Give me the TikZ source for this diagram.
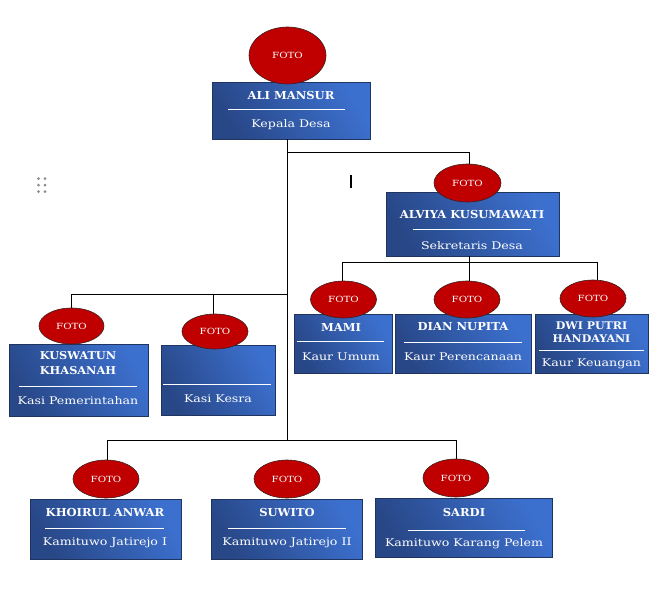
\documentclass[tikz,border=0pt]{standalone}
\usepackage{fontspec}
\setmainfont{DejaVu Serif}[FakeStretch=1.2]
\newfontfamily\namefont{DejaVu Serif}[FakeStretch=1.05]
\usetikzlibrary{shapes.geometric}
\definecolor{boxA}{HTML}{284787}
\definecolor{boxB}{HTML}{3C70CE}
\definecolor{boxline}{HTML}{1F3560}
\definecolor{fotored}{HTML}{C00000}
\definecolor{fotoline}{HTML}{3A2020}
\definecolor{gripgrey}{HTML}{8A8A8A}
\tikzset{
  box/.style={rectangle, draw=boxline, line width=0.8pt, left color=boxA, right color=boxB, shading angle=120, inner sep=0pt},
  foto/.style={ellipse, draw=fotoline, fill=fotored, line width=0.6pt, inner sep=0pt, text=white, font=\fontsize{8.5}{10}\selectfont},
  nm/.style={text=white, font=\namefont\bfseries\fontsize{11}{12}\selectfont, align=center, inner sep=0pt},
  tt/.style={text=white, font=\fontsize{10.5}{12}\selectfont, inner sep=0pt},
  sep/.style={draw=white, line width=0.8pt},
  link/.style={draw=black, line width=0.8pt},
}
\begin{document}
\begin{tikzpicture}[x=1pt, y=-1pt]
\useasboundingbox (0,0) rectangle (659,611);

% coordinates for connectors
\coordinate (a0) at (287,139);
\coordinate (a1) at (287,152);
\coordinate (a2) at (469,152);
\coordinate (s0) at (469,256);
\coordinate (s1) at (469,262);
\coordinate (sL) at (342,262);
\coordinate (sR) at (597,262);
\coordinate (k0) at (287,294);
\coordinate (kL) at (71,294);
\coordinate (kM) at (213,294);
\coordinate (d0) at (287,440);
\coordinate (dL) at (107,440);
\coordinate (dR) at (456,440);

% boxes
\node[box, minimum width=158pt, minimum height=57pt] (b1) at (291,110.5) {};
\node[box, minimum width=173pt, minimum height=64pt] (b2) at (472.5,224) {};
\node[box, minimum width=98pt, minimum height=59pt] (b3) at (343,343.5) {};
\node[box, minimum width=136pt, minimum height=59pt] (b4) at (463,343.5) {};
\node[box, minimum width=113pt, minimum height=59pt] (b5) at (591.5,343.5) {};
\node[box, minimum width=139pt, minimum height=72pt] (b6) at (78.5,380) {};
\node[box, minimum width=114pt, minimum height=70pt] (b7) at (218,380) {};
\node[box, minimum width=151pt, minimum height=60pt] (b8) at (105.5,529) {};
\node[box, minimum width=151pt, minimum height=60pt] (b9) at (286.5,529) {};
\node[box, minimum width=177pt, minimum height=59pt] (b10) at (463.5,527.5) {};

% connectors
\draw[link] (a0) -- (d0);
\draw[link] (a1) -- (a2) -- (469,164);
\draw[link] (s0) -- (s1);
\draw[link] (sL) -- (sR);
\draw[link] (sL) -- (342,281);
\draw[link] (s1) -- (469,281);
\draw[link] (sR) -- (597,280);
\draw[link] (kL) -- (k0);
\draw[link] (kL) -- (71,308);
\draw[link] (kM) -- (213,314);
\draw[link] (dL) -- (dR);
\draw[link] (dL) -- (107,460);
\draw[link] (dR) -- (456,459);

% texts
\node[nm] (n1) at (291,95.5) {ALI MANSUR};
\draw[sep] (228,109) -- (345,109);
\node[tt] (t1) at (291,125) {Kepala Desa};

\node[nm] (n2) at (472,214.5) {ALVIYA KUSUMAWATI};
\draw[sep] (413,229) -- (531,229);
\node[tt] (t2) at (472,245.5) {Sekretaris Desa};

\node[nm] (n3) at (341,327.5) {MAMI};
\draw[sep] (297,341) -- (384,341);
\node[tt] (t3) at (341,357) {Kaur Umum};

\node[nm] (n4) at (463,326.5) {DIAN NUPITA};
\draw[sep] (404,342) -- (522,342);
\node[tt] (t4) at (463,357) {Kaur Perencanaan};

\node[nm, font=\namefont\bfseries\fontsize{10.5}{13.5}\selectfont] (n5) at (591.5,332) {DWI PUTRI\\HANDAYANI};
\draw[sep] (539,350) -- (644,350);
\node[tt] (t5) at (591.5,364) {Kaur Keuangan};

\node[nm, font=\namefont\bfseries\fontsize{10.8}{15}\selectfont] (n6) at (78,363.5) {KUSWATUN\\KHASANAH};
\draw[sep] (19,386) -- (137,386);
\node[tt] (t6) at (78,401) {Kasi Pemerintahan};

\draw[sep] (163,384) -- (271,384);
\node[tt] (t7) at (218,399) {Kasi Kesra};

\node[nm] (n8) at (105,512.5) {KHOIRUL ANWAR};
\draw[sep] (45,528) -- (164,528);
\node[tt] (t8) at (105,543) {Kamituwo Jatirejo I};

\node[nm] (n9) at (287,512.5) {SUWITO};
\draw[sep] (228,528) -- (346,528);
\node[tt] (t9) at (287,543) {Kamituwo Jatirejo II};

\node[nm] (n10) at (464,512.5) {SARDI};
\draw[sep] (408,530) -- (525,530);
\node[tt] (t10) at (464,544) {Kamituwo Karang Pelem};

% photo ellipses
\node[foto, minimum width=77pt, minimum height=57pt] (f1) at (287.5,55.5) {FOTO};
\node[foto, minimum width=67pt, minimum height=38pt] (f2) at (467.5,183) {FOTO};
\node[foto, minimum width=66pt, minimum height=37pt] (f3) at (343.5,299.5) {FOTO};
\node[foto, minimum width=66pt, minimum height=37pt] (f4) at (467,299.5) {FOTO};
\node[foto, minimum width=66pt, minimum height=37pt] (f5) at (593,298.5) {FOTO};
\node[foto, minimum width=65pt, minimum height=36pt] (f6) at (71.5,326) {FOTO};
\node[foto, minimum width=66pt, minimum height=35pt] (f7) at (215,331.5) {FOTO};
\node[foto, minimum width=66pt, minimum height=38pt] (f8) at (106,479) {FOTO};
\node[foto, minimum width=66pt, minimum height=38pt] (f9) at (287,479) {FOTO};
\node[foto, minimum width=66pt, minimum height=38pt] (f10) at (456,478) {FOTO};

% grip dots and text cursor
\foreach \gx in {38.5,45} \foreach \gy in {178.5,185,191.5}
  \fill[gripgrey] (\gx,\gy) circle (1.5pt);
\draw[black, line width=1.2pt] (351,175) -- (351,188);
\end{tikzpicture}
\end{document}
